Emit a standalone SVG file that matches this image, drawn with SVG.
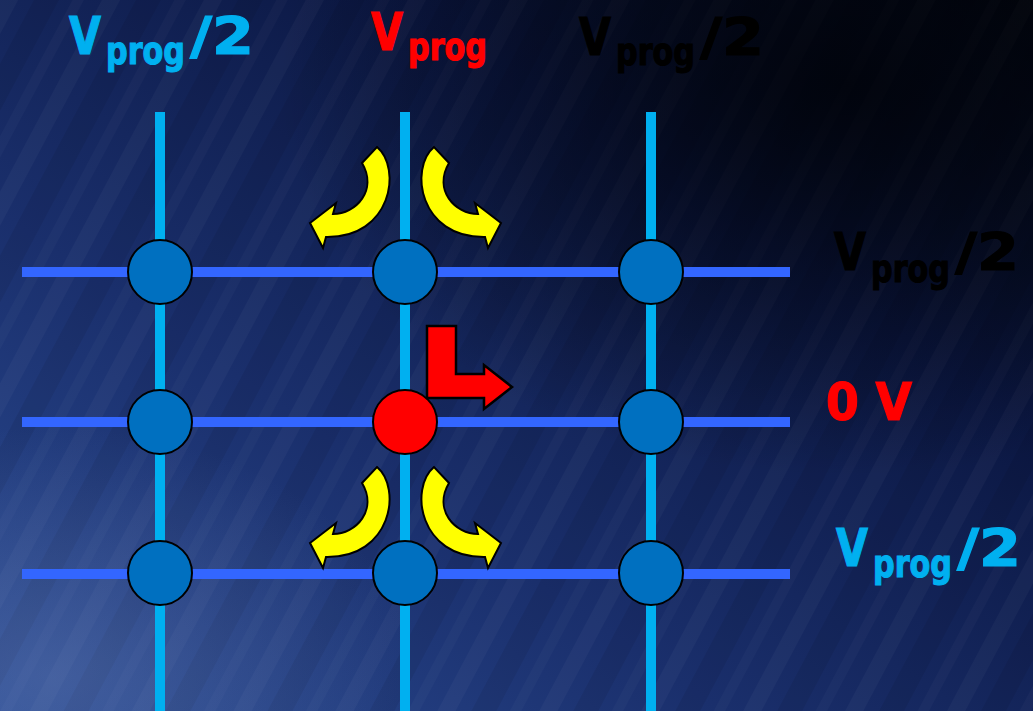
<svg xmlns="http://www.w3.org/2000/svg" width="1033" height="711" viewBox="0 0 1033 711">
<defs>
<linearGradient id="bg" x1="0" y1="1" x2="1" y2="0">
<stop offset="0" stop-color="#2b4c94"/>
<stop offset="0.35" stop-color="#1a2f6c"/>
<stop offset="0.7" stop-color="#0b1742"/>
<stop offset="1" stop-color="#02060f"/>
</linearGradient>
<radialGradient id="dark" cx="0.82" cy="0.12" r="0.55">
<stop offset="0" stop-color="#000208" stop-opacity="0.85"/>
<stop offset="1" stop-color="#000208" stop-opacity="0"/>
</radialGradient>
<radialGradient id="glow" cx="0.05" cy="0.95" r="0.35">
<stop offset="0" stop-color="#7a8fc0" stop-opacity="0.3"/>
<stop offset="1" stop-color="#7a8fc0" stop-opacity="0"/>
</radialGradient>
<pattern id="streaks" width="90" height="90" patternUnits="userSpaceOnUse" patternTransform="rotate(28)">
<rect x="0" y="0" width="16" height="90" fill="#ffffff" opacity="0.03"/>
<rect x="30" y="0" width="22" height="90" fill="#000010" opacity="0.08"/>
<rect x="64" y="0" width="10" height="90" fill="#ffffff" opacity="0.025"/>
</pattern>
<style>
.vl{stroke:#00b0f0;stroke-width:10;}
.hl{stroke:#3366ff;stroke-width:10;}
.node{fill:#0070c0;stroke:#000;stroke-width:2;}
.sel{fill:#ff0000;stroke:#000;stroke-width:2;}
.ya{fill:#ffff00;stroke:#000;stroke-width:2;stroke-linejoin:miter;}
.ra{fill:#ff0000;stroke:#000;stroke-width:2.5;}
text{font-family:"DejaVu Sans","Verdana",sans-serif;font-weight:bold;stroke-width:1.2;}
.big{font-size:51px;}
.sub{font-size:38px;}
.blue{fill:#00b0f0;stroke:#00b0f0;}
.red{fill:#ff0000;stroke:#ff0000;}
.blk{fill:#000000;stroke:#000000;}
</style>
<path id="carrow" d="M 362,163 L 377,147 C 402,168 392,238 326,237 L 323,248 L 310,223 L 336,203 L 333,214 C 356,214 378,190 362,163 Z"/>
</defs>
<rect width="1033" height="711" fill="url(#bg)"/>
<rect width="1033" height="711" fill="url(#streaks)"/>
<rect width="1033" height="711" fill="url(#glow)"/>
<rect width="1033" height="711" fill="url(#dark)"/>

<g id="connectors">
<line class="hl" x1="22" y1="272" x2="790" y2="272"/>
<line class="hl" x1="22" y1="422" x2="790" y2="422"/>
<line class="hl" x1="22" y1="574" x2="790" y2="574"/>
<line class="vl" x1="160" y1="112" x2="160" y2="711"/>
<line class="vl" x1="405" y1="112" x2="405" y2="711"/>
<line class="vl" x1="651" y1="112" x2="651" y2="711"/>
</g>

<g id="node-r1c1"><circle class="node" cx="160" cy="272" r="32"/></g>
<g id="node-r1c2"><circle class="node" cx="405" cy="272" r="32"/></g>
<g id="node-r1c3"><circle class="node" cx="651" cy="272" r="32"/></g>
<g id="node-r2c1"><circle class="node" cx="160" cy="422" r="32"/></g>
<g id="node-r2c2"><circle class="sel" cx="405" cy="422" r="32"/></g>
<g id="node-r2c3"><circle class="node" cx="651" cy="422" r="32"/></g>
<g id="node-r3c1"><circle class="node" cx="160" cy="573" r="32"/></g>
<g id="node-r3c2"><circle class="node" cx="405" cy="573" r="32"/></g>
<g id="node-r3c3"><circle class="node" cx="651" cy="573" r="32"/></g>

<g id="disturb-arrows">
<use href="#carrow" class="ya"/>
<use href="#carrow" class="ya" transform="translate(811,0) scale(-1,1)"/>
<use href="#carrow" class="ya" transform="translate(0,320)"/>
<use href="#carrow" class="ya" transform="translate(811,320) scale(-1,1)"/>
</g>

<g id="program-arrow">
<path class="ra" d="M 427,326 L 456,326 L 456,374 L 484,374 L 484,365 L 512,387 L 484,409 L 484,398 L 427,398 Z"/>
</g>

<g id="label-col1">
<text class="big blue" x="69" y="54" textLength="32" lengthAdjust="spacingAndGlyphs">V</text>
<text class="sub blue" x="106" y="64" textLength="79" lengthAdjust="spacingAndGlyphs">prog</text>
<text class="big blue" x="190" y="54" textLength="64" lengthAdjust="spacingAndGlyphs">/2</text>
</g>
<g id="label-col2">
<text class="big red" x="371" y="50" textLength="32" lengthAdjust="spacingAndGlyphs">V</text>
<text class="sub red" x="408" y="60" textLength="79" lengthAdjust="spacingAndGlyphs">prog</text>
</g>
<g id="label-col3">
<text class="big blk" x="579" y="55" textLength="32" lengthAdjust="spacingAndGlyphs">V</text>
<text class="sub blk" x="616" y="65" textLength="79" lengthAdjust="spacingAndGlyphs">prog</text>
<text class="big blk" x="700" y="55" textLength="64" lengthAdjust="spacingAndGlyphs">/2</text>
</g>
<g id="label-row1">
<text class="big blk" x="834" y="270" textLength="32" lengthAdjust="spacingAndGlyphs">V</text>
<text class="sub blk" x="871" y="282" textLength="79" lengthAdjust="spacingAndGlyphs">prog</text>
<text class="big blk" x="955" y="270" textLength="64" lengthAdjust="spacingAndGlyphs">/2</text>
</g>
<g id="label-row2">
<text class="big red" x="826" y="420" textLength="86" lengthAdjust="spacingAndGlyphs">0 V</text>
</g>
<g id="label-row3">
<text class="big blue" x="836" y="566" textLength="32" lengthAdjust="spacingAndGlyphs">V</text>
<text class="sub blue" x="873" y="577" textLength="79" lengthAdjust="spacingAndGlyphs">prog</text>
<text class="big blue" x="957" y="566" textLength="64" lengthAdjust="spacingAndGlyphs">/2</text>
</g>
</svg>
